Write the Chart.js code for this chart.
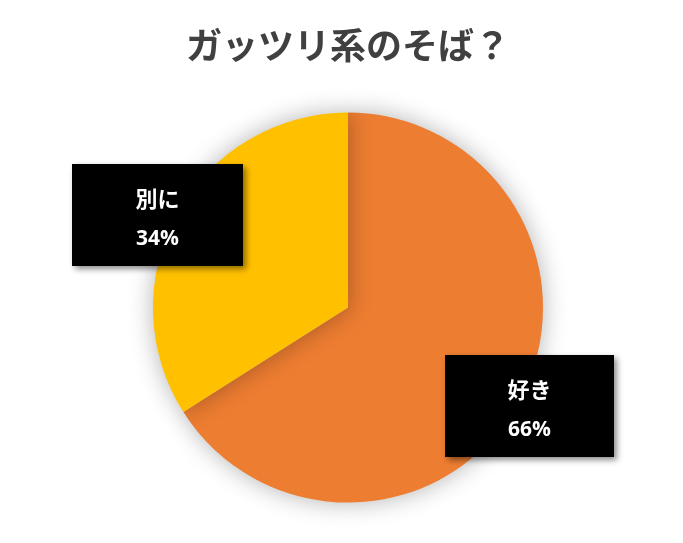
<!DOCTYPE html>
<html>
<head>
<meta charset="utf-8">
<script src="https://cdn.jsdelivr.net/npm/chart.js@4"></script>
<style>
  html, body { margin: 0; padding: 0; background: #fff; }
  #wrap { width: 683px; height: 543px; position: relative; }
</style>
</head>
<body>
<div id="wrap"><canvas id="c"></canvas></div>
<script>
var title = "ガッツリ系のそば？";
var categories = ["好き", "別に"];
var values = [66, 34];
var percentLabels = ["66%", "34%"];
var sliceColors = ["#ED7D31", "#FFC000"];

// where the callout boxes sit (x, y, w, h), one per slice
var boxes = [
  { x: 445, y: 355, w: 169, h: 102 },
  { x: 72, y: 164, w: 171, h: 102 }
];

var pieShadow = {
  id: "pieShadow",
  beforeDatasetsDraw: function (chart) {
    var ctx = chart.ctx;
    ctx.save();
    ctx.shadowColor = "rgba(0,0,0,0.3)";
    ctx.shadowBlur = 24;
    ctx.shadowOffsetX = 0;
    ctx.shadowOffsetY = 0;
  },
  afterDatasetsDraw: function (chart) {
    chart.ctx.restore();
  }
};

var callouts = {
  id: "callouts",
  afterDraw: function (chart) {
    var ctx = chart.ctx;
    for (var i = 0; i < boxes.length; i++) {
      var b = boxes[i];
      ctx.save();
      ctx.shadowColor = "rgba(0,0,0,0.45)";
      ctx.shadowBlur = 6;
      ctx.shadowOffsetX = 3;
      ctx.shadowOffsetY = 3;
      ctx.fillStyle = "#000";
      ctx.fillRect(b.x, b.y, b.w, b.h);
      ctx.restore();
      ctx.save();
      ctx.fillStyle = "#fff";
      ctx.textAlign = "center";
      ctx.textBaseline = "middle";
      ctx.font = "bold 22px 'Noto Sans CJK JP', 'Noto Sans', sans-serif";
      ctx.fillText(categories[i], b.x + b.w / 2, b.y + 35);
      ctx.font = "bold 21px 'Open Sans', 'Noto Sans', sans-serif";
      ctx.fillText(percentLabels[i], b.x + b.w / 2, b.y + 75);
      ctx.restore();
    }
  }
};

new Chart(document.getElementById("c"), {
  type: "pie",
  data: {
    labels: categories,
    datasets: [{ data: values, backgroundColor: sliceColors, borderWidth: 0 }]
  },
  options: {
    responsive: true,
    maintainAspectRatio: false,
    animation: false,
    layout: { padding: { left: 153, right: 140, top: 0, bottom: 40 } },
    plugins: {
      legend: { display: false },
      tooltip: { enabled: false },
      title: {
        display: true,
        text: title,
        color: "#404040",
        font: { size: 36, weight: "bold", family: "'Noto Sans CJK JP', sans-serif" },
        padding: { top: 24, bottom: 45 }
      }
    }
  },
  plugins: [pieShadow, callouts]
});
</script>
</body>
</html>
